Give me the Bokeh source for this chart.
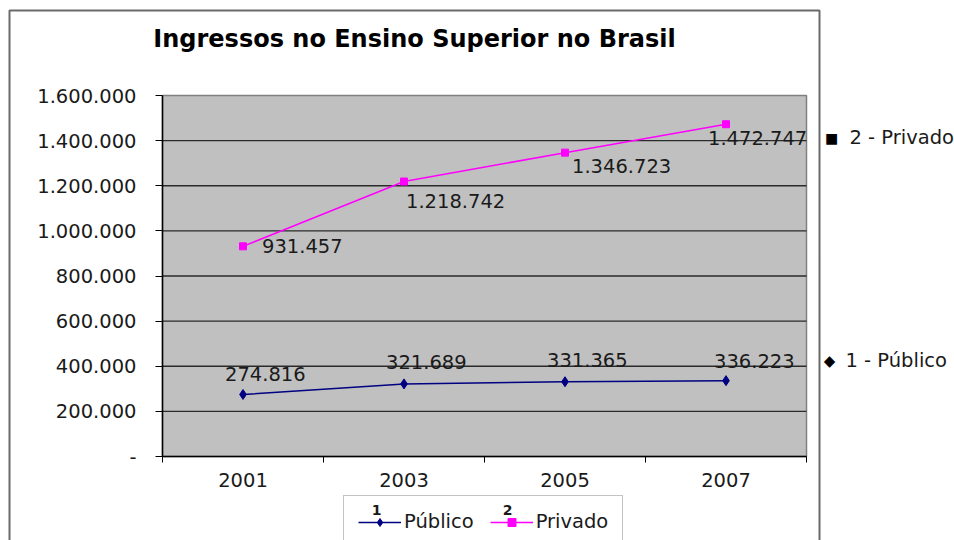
from bokeh.plotting import figure
from bokeh.models import Label, Legend, LegendItem, BoxAnnotation, FixedTicker, Range1d
from bokeh.embed import file_html
from bokeh.resources import INLINE
from bokeh.core.properties import value

# ---- data ----
title_text = "Ingressos no Ensino Superior no Brasil"
years = ["2001", "2003", "2005", "2007"]
publico = [274816, 321689, 331365, 336223]
privado = [931457, 1218742, 1346723, 1472747]
y_ticks = [0, 200000, 400000, 600000, 800000, 1000000, 1200000, 1400000, 1600000]
series_names = ["Público", "Privado"]
side_labels = ["2 - Privado", "1 - Público"]
side_marks = ["\u25A0", "\u25C6"]


def fmt(v):
    return "-" if v == 0 else f"{v:,}".replace(",", ".")


# ---- layout (pixels) ----
W, H = 954, 540
PL, PR, PT, PB = 162, 806, 95, 456          # plot area edges on the canvas
n = len(years)
x_lo, x_hi = -0.5, n - 0.5
y_lo, y_hi = y_ticks[0], y_ticks[-1]
xpp = (x_hi - x_lo) / (PR - PL)
ypp = (y_hi - y_lo) / (PB - PT)

# label offsets (pixels) for the data labels
pri_dx = [19, 2, 7, -18]
pri_dy = [0, -19, -13, -14]
pub_dx = [-18, -18, -18, -12]
pub_dy = [20, 22, 22, 20]

FONT = "DejaVu Sans"
FS = "19.5px"
TXT = "#1a1a1a"
xs = list(range(n))

p = figure(width=W, height=H, output_backend="svg", toolbar_location=None, tools="",
           x_range=Range1d(x_lo - PL * xpp, x_hi + (W - PR) * xpp),
           y_range=Range1d(y_lo - (H - PB) * ypp, y_hi + PT * ypp),
           min_border=0)
p.min_border_left = p.min_border_right = p.min_border_top = p.min_border_bottom = 0
p.background_fill_color = "white"
p.border_fill_color = "white"
p.outline_line_color = None
p.grid.visible = False

# chart-area border
p.add_layout(BoxAnnotation(left=9, right=819, top=H - 10, bottom=-50,
                           left_units="screen", right_units="screen",
                           top_units="screen", bottom_units="screen",
                           fill_alpha=0, line_color="#6a6a6a", line_alpha=1, line_width=2,
                           level="underlay"))
# plot area
p.add_layout(BoxAnnotation(left=x_lo, right=x_hi, bottom=y_lo, top=y_hi,
                           fill_color="#C0C0C0", fill_alpha=1,
                           line_color="#808080", line_alpha=1, line_width=1.5, level="underlay"))

# gridlines at the y ticks
gy = y_ticks[1:-1]
p.segment(x0=[x_lo] * len(gy), x1=[x_hi] * len(gy), y0=gy, y1=gy,
          line_color="#2a2a2a", line_width=1.3)

# x axis
xa = p.xaxis[0]
xa.fixed_location = y_lo
xa.bounds = (x_lo, x_hi)
xa.ticker = FixedTicker(ticks=xs, minor_ticks=[x - 0.5 for x in xs] + [xs[-1] + 0.5])
xa.major_label_overrides = {x: y for x, y in zip(xs, years)}
xa.major_tick_out = 0
xa.major_tick_in = 0
xa.minor_tick_out = 6
xa.minor_tick_in = 0
xa.minor_tick_line_color = "black"
xa.axis_line_color = "black"
xa.axis_line_width = 1.5
xa.major_label_standoff = 10
xa.major_label_text_font = FONT
xa.major_label_text_font_size = FS
xa.major_label_text_color = TXT

# y axis
ya = p.yaxis[0]
ya.fixed_location = x_lo
ya.bounds = (y_lo, y_hi)
ya.ticker = FixedTicker(ticks=y_ticks)
ya.major_label_overrides = {t: fmt(t) for t in y_ticks}
ya.minor_tick_line_color = None
ya.major_tick_out = 7
ya.major_tick_in = 0
ya.major_tick_line_color = "black"
ya.axis_line_color = "black"
ya.axis_line_width = 1.5
ya.major_label_standoff = 19
ya.major_label_text_font = FONT
ya.major_label_text_font_size = FS
ya.major_label_text_color = TXT

# series
r_pub_l = p.line(xs, publico, color="#000080", line_width=1.5)
r_pub_m = p.scatter(xs, publico, marker="diamond", size=10, color="#000080")
r_pri_l = p.line(xs, privado, color="#FF00FF", line_width=1.5)
r_pri_m = p.scatter(xs, privado, marker="square", size=7, color="#FF00FF")

# data labels
for vals, dxs, dys in [(privado, pri_dx, pri_dy), (publico, pub_dx, pub_dy)]:
    for x, v, dx, dy in zip(xs, vals, dxs, dys):
        p.add_layout(Label(x=x, y=v, x_offset=dx, y_offset=dy, text=fmt(v), text_font=FONT,
                           text_font_size=FS, text_color=TXT, text_baseline="middle",
                           text_align="left"))

# title
p.add_layout(Label(x=414, y=H - 38, x_units="screen", y_units="screen", text=title_text,
                   text_font=FONT, text_font_style="bold", text_font_size="24px",
                   text_color="black", text_align="center", text_baseline="middle"))

# bottom legend (white area behind it is the chart background)
legend = Legend(items=[LegendItem(label=value(series_names[0]), renderers=[r_pub_l, r_pub_m]),
                       LegendItem(label=value(series_names[1]), renderers=[r_pri_l, r_pri_m])],
                orientation="horizontal", location=(343, -8), margin=0, padding=14,
                glyph_width=43, glyph_height=20, label_standoff=3, spacing=16,
                label_text_font=FONT, label_text_font_size=FS, label_text_color=TXT,
                border_line_color="#888888", border_line_width=1.5,
                background_fill_alpha=0)
p.add_layout(legend)
for lx, t in [(376, "1"), (507, "2")]:
    p.add_layout(Label(x=lx, y=H - 509, x_units="screen", y_units="screen", text=t,
                       text_font=FONT, text_font_style="bold", text_font_size="14px",
                       text_color=TXT, text_align="center", text_baseline="middle",
                       level="overlay"))

# side labels (outside the chart area)
for mark, lab, mx, tx, cy, msz in [(side_marks[0], side_labels[0], 831, 849, 137, "14px"),
                                   (side_marks[1], side_labels[1], 829, 845, 360, "15px")]:
    p.add_layout(Label(x=mx, y=H - cy, x_units="screen", y_units="screen", text=mark,
                       text_font=FONT, text_font_size=msz, text_color="black",
                       text_align="center", text_baseline="middle"))
    p.add_layout(Label(x=tx, y=H - cy, x_units="screen", y_units="screen", text=lab,
                       text_font=FONT, text_font_size=FS, text_color=TXT,
                       text_align="left", text_baseline="middle"))

open("out.html", "w").write(file_html(p, INLINE))
